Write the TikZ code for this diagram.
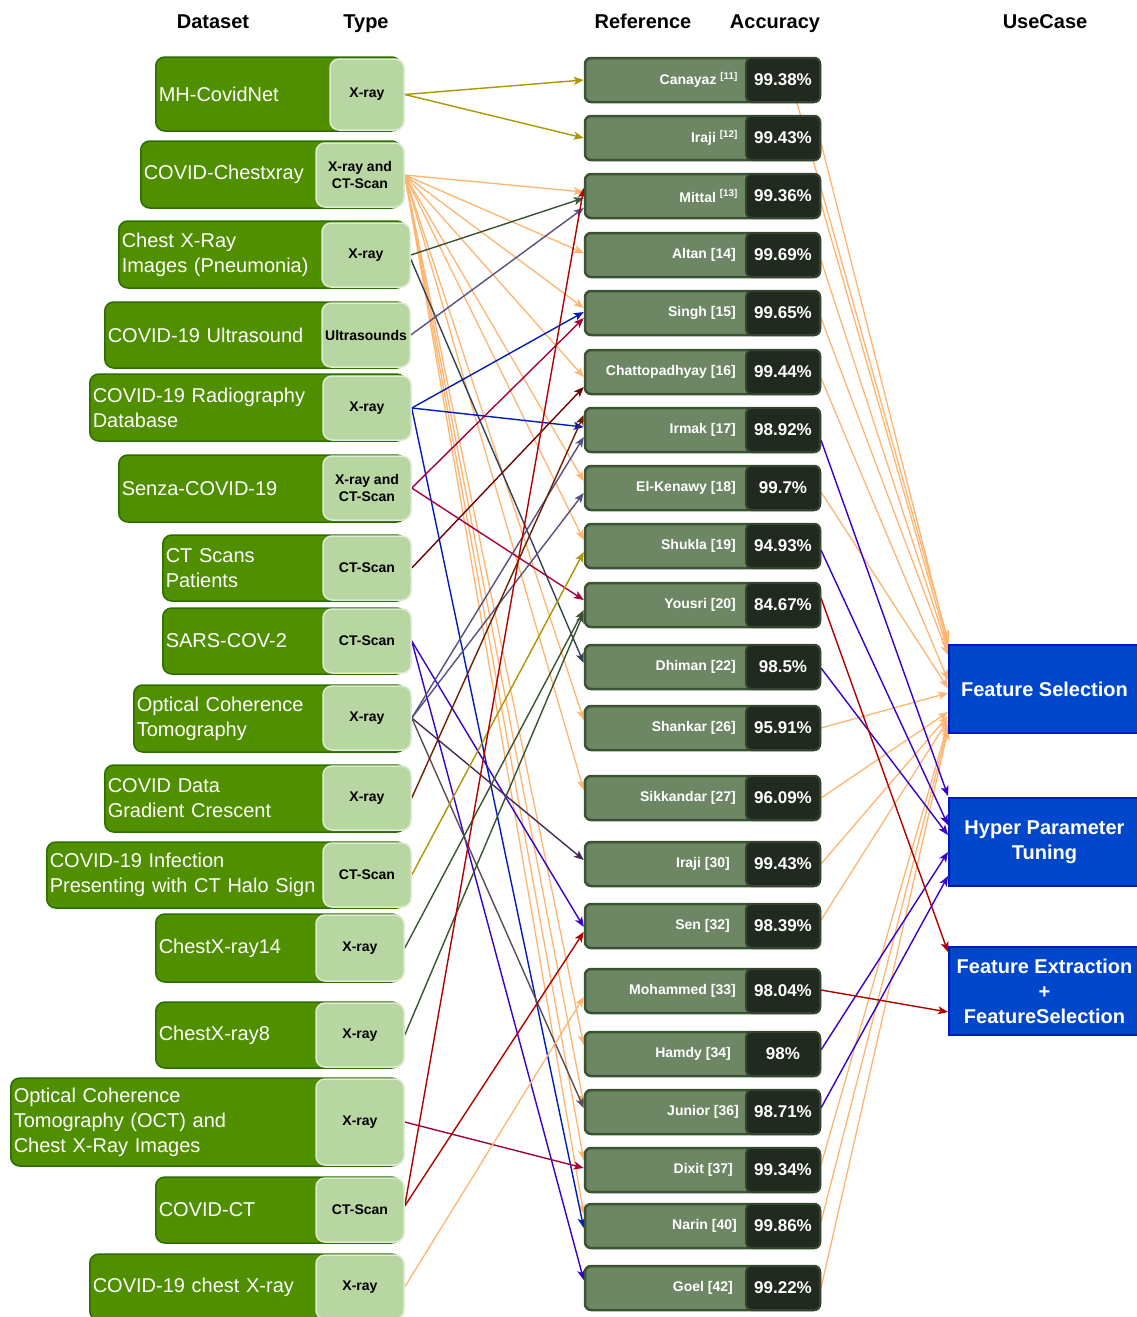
\documentclass[tikz,border=0pt]{standalone}
\usepackage{fontspec}
\setmainfont{Liberation Sans}
\usetikzlibrary{arrows.meta,backgrounds}
\definecolor{dsG}{HTML}{4F8F00}
\definecolor{dsGD}{HTML}{2D6E00}
\definecolor{tyG}{HTML}{B7D6A2}
\definecolor{tyGD}{HTML}{DCEBD2}
\definecolor{rfG}{HTML}{6D8764}
\definecolor{rfGD}{HTML}{3A5431}
\definecolor{acG}{HTML}{202A1E}
\definecolor{acGD}{HTML}{34432F}
\definecolor{ucB}{HTML}{0047CC}
\definecolor{ucBD}{HTML}{001DBC}
\definecolor{cOr}{HTML}{FFB570}
\definecolor{cGold}{HTML}{B09500}
\definecolor{cDG}{HTML}{3A5431}
\definecolor{cSl}{HTML}{314354}
\definecolor{cPG}{HTML}{56517E}
\definecolor{cBl}{HTML}{001DBC}
\definecolor{cCr}{HTML}{A50040}
\definecolor{cDR}{HTML}{6F0000}
\definecolor{cVi}{HTML}{3700CC}
\definecolor{cDP}{HTML}{432D57}
\definecolor{cGr}{HTML}{5E4B56}
\definecolor{cBr}{HTML}{6D1F00}
\definecolor{cRd}{HTML}{B20000}
\tikzset{
  dsbox/.style={draw=dsGD, fill=dsG, line width=1.5pt, rounded corners=9pt, text=white,
    font=\fontsize{20}{25}\selectfont, align=left, inner xsep=3pt, inner ysep=0pt, anchor=west},
  tybox/.style={draw=tyGD, fill=tyG, line width=1.5pt, rounded corners=9pt, text=black,
    font=\fontsize{14}{17}\selectfont\bfseries, align=center, inner sep=0pt},
  refbox/.style={draw=rfGD, fill=rfG, line width=2.5pt, rounded corners=6pt,
    minimum width=235pt, minimum height=44pt, inner sep=0pt},
  accbox/.style={draw=acGD, fill=acG, line width=2pt, rounded corners=6pt, text=white,
    minimum width=74pt, minimum height=44pt, inner sep=0pt, font=\fontsize{17}{20}\selectfont\bfseries},
  reflab/.style={text=white, anchor=east, inner sep=0pt, font=\fontsize{14}{17}\selectfont\bfseries},
  ucbox/.style={draw=ucBD, fill=ucB, line width=2pt, text=white, minimum width=191pt,
    minimum height=88pt, align=center, inner sep=0pt, font=\fontsize{20}{25}\selectfont\bfseries},
  hdr/.style={text=black, inner sep=0pt, anchor=base, font=\fontsize{20}{24}\selectfont\bfseries},
  conn/.style={line width=1.4pt, -{Stealth[length=10pt,width=8pt,inset=2.5pt]}},
  oconn/.style={conn, cOr, line width=1.3pt}
}
\begin{document}
\begin{tikzpicture}[x=1pt,y=-1pt]
\useasboundingbox (0,0) rectangle (1136,1317);

% headers
\node[hdr] (hDs) at (213,28) {Dataset};
\node[hdr] (hTy) at (366,28) {Type};
\node[hdr] (hRf) at (643,28) {Reference};
\node[hdr] (hAc) at (775,28) {Accuracy};
\node[hdr] (hUc) at (1045,28) {UseCase};

% datasets
\node[dsbox, text width=239pt, minimum height=74pt] (ds1) at (155,94) {MH-CovidNet};
\node[tybox, minimum width=74pt, minimum height=71pt] (ty1) at (367,94.5) {X-ray};
\node[dsbox, text width=254pt, minimum height=67pt] (ds2) at (140,174.5) {COVID-Chestxray};
\node[tybox, minimum width=88pt, minimum height=64pt] (ty2) at (360,175) {X-ray and\\CT-Scan};
\node[dsbox, text width=281pt, minimum height=67pt] (ds3) at (118,254.5) {Chest X-Ray\\Images (Pneumonia)};
\node[tybox, minimum width=88pt, minimum height=64pt] (ty3) at (366,255) {X-ray};
\node[dsbox, text width=295pt, minimum height=66pt] (ds4) at (104,335) {COVID-19 Ultrasound};
\node[tybox, minimum width=88pt, minimum height=64pt] (ty4) at (366,335) {Ultrasounds};
\node[dsbox, text width=310pt, minimum height=67pt] (ds5) at (89,407.5) {COVID-19 Radiography\\Database};
\node[tybox, minimum width=88pt, minimum height=64pt] (ty5) at (367,408) {X-ray};
\node[dsbox, text width=281pt, minimum height=67pt] (ds6) at (118,488.5) {Senza-COVID-19};
\node[tybox, minimum width=88pt, minimum height=64pt] (ty6) at (367,488) {X-ray and\\CT-Scan};
\node[dsbox, text width=237pt, minimum height=66pt] (ds7) at (162,568) {CT Scans\\Patients};
\node[tybox, minimum width=88pt, minimum height=64pt] (ty7) at (367,568) {CT-Scan};
\node[dsbox, text width=237pt, minimum height=66pt] (ds8) at (162,641) {SARS-COV-2};
\node[tybox, minimum width=88pt, minimum height=64pt] (ty8) at (367,641) {CT-Scan};
\node[dsbox, text width=266pt, minimum height=67pt] (ds9) at (133,718.5) {Optical Coherence\\Tomography};
\node[tybox, minimum width=88pt, minimum height=64pt] (ty9) at (367,718) {X-ray};
\node[dsbox, text width=295pt, minimum height=67pt] (ds10) at (104,798.5) {COVID Data\\Gradient Crescent};
\node[tybox, minimum width=88pt, minimum height=64pt] (ty10) at (367,798) {X-ray};
\node[dsbox, text width=353pt, minimum height=66pt] (ds11) at (46,875) {COVID-19 Infection\\Presenting with CT Halo Sign};
\node[tybox, minimum width=88pt, minimum height=64pt] (ty11) at (367,875) {CT-Scan};
\node[dsbox, text width=239pt, minimum height=68pt] (ds12) at (155,948) {ChestX-ray14};
\node[tybox, minimum width=88pt, minimum height=66pt] (ty12) at (360,948) {X-ray};
\node[dsbox, text width=239pt, minimum height=66pt] (ds13) at (155,1035) {ChestX-ray8};
\node[tybox, minimum width=88pt, minimum height=64pt] (ty13) at (360,1035) {X-ray};
\node[dsbox, text width=384pt, minimum height=88pt] (ds14) at (10,1122) {Optical Coherence\\Tomography (OCT) and\\Chest X-Ray Images};
\node[tybox, minimum width=88pt, minimum height=86pt] (ty14) at (360,1122) {X-ray};
\node[dsbox, text width=239pt, minimum height=66pt] (ds15) at (155,1210) {COVID-CT};
\node[tybox, minimum width=88pt, minimum height=64pt] (ty15) at (360,1210) {CT-Scan};
\node[dsbox, text width=305pt, minimum height=66pt] (ds16) at (89,1287) {COVID-19 chest X-ray};
\node[tybox, minimum width=88pt, minimum height=64pt] (ty16) at (360,1287) {X-ray};

% references
\node[refbox] (rf1) at (702.5,80) {};
\node[accbox] (ac1) at (783,80) {99.38\%};
\node[reflab] (lb1) at (738,80) {Canayaz \textsuperscript{[11]}};
\node[refbox] (rf2) at (702.5,138) {};
\node[accbox] (ac2) at (783,138) {99.43\%};
\node[reflab] (lb2) at (738,138) {Iraji \textsuperscript{[12]}};
\node[refbox] (rf3) at (702.5,196) {};
\node[accbox] (ac3) at (783,196) {99.36\%};
\node[reflab] (lb3) at (738,196) {Mittal \textsuperscript{[13]}};
\node[refbox] (rf4) at (702.5,255) {};
\node[accbox] (ac4) at (783,255) {99.69\%};
\node[reflab] (lb4) at (736,255) {Altan [14]};
\node[refbox] (rf5) at (702.5,313) {};
\node[accbox] (ac5) at (783,313) {99.65\%};
\node[reflab] (lb5) at (736,313) {Singh [15]};
\node[refbox] (rf6) at (702.5,372) {};
\node[accbox] (ac6) at (783,372) {99.44\%};
\node[reflab] (lb6) at (736,372) {Chattopadhyay [16]};
\node[refbox] (rf7) at (702.5,430) {};
\node[accbox] (ac7) at (783,430) {98.92\%};
\node[reflab] (lb7) at (736,430) {Irmak [17]};
\node[refbox] (rf8) at (702.5,488) {};
\node[accbox] (ac8) at (783,488) {99.7\%};
\node[reflab] (lb8) at (736,488) {El-Kenawy [18]};
\node[refbox] (rf9) at (702.5,546) {};
\node[accbox] (ac9) at (783,546) {94.93\%};
\node[reflab] (lb9) at (736,546) {Shukla [19]};
\node[refbox] (rf10) at (702.5,605) {};
\node[accbox] (ac10) at (783,605) {84.67\%};
\node[reflab] (lb10) at (736,605) {Yousri [20]};
\node[refbox] (rf11) at (702.5,667) {};
\node[accbox] (ac11) at (783,667) {98.5\%};
\node[reflab] (lb11) at (736,667) {Dhiman [22]};
\node[refbox] (rf12) at (702.5,728) {};
\node[accbox] (ac12) at (783,728) {95.91\%};
\node[reflab] (lb12) at (736,728) {Shankar [26]};
\node[refbox] (rf13) at (702.5,798) {};
\node[accbox] (ac13) at (783,798) {96.09\%};
\node[reflab] (lb13) at (736,798) {Sikkandar [27]};
\node[refbox] (rf14) at (702.5,864) {};
\node[accbox] (ac14) at (783,864) {99.43\%};
\node[reflab] (lb14) at (730,864) {Iraji [30]};
\node[refbox] (rf15) at (702.5,926) {};
\node[accbox] (ac15) at (783,926) {98.39\%};
\node[reflab] (lb15) at (730,926) {Sen [32]};
\node[refbox] (rf16) at (702.5,991) {};
\node[accbox] (ac16) at (783,991) {98.04\%};
\node[reflab] (lb16) at (736,991) {Mohammed [33]};
\node[refbox] (rf17) at (702.5,1054) {};
\node[accbox] (ac17) at (783,1054) {98\%};
\node[reflab] (lb17) at (731,1054) {Hamdy [34]};
\node[refbox] (rf18) at (702.5,1112) {};
\node[accbox] (ac18) at (783,1112) {98.71\%};
\node[reflab] (lb18) at (739,1112) {Junior [36]};
\node[refbox] (rf19) at (702.5,1170) {};
\node[accbox] (ac19) at (783,1170) {99.34\%};
\node[reflab] (lb19) at (733,1170) {Dixit [37]};
\node[refbox] (rf20) at (702.5,1226) {};
\node[accbox] (ac20) at (783,1226) {99.86\%};
\node[reflab] (lb20) at (737,1226) {Narin [40]};
\node[refbox] (rf21) at (702.5,1288) {};
\node[accbox] (ac21) at (783,1288) {99.22\%};
\node[reflab] (lb21) at (733,1288) {Goel [42]};

% use cases
\node[ucbox] (fs) at (1044.5,689) {Feature Selection};
\node[ucbox] (hp) at (1044.5,842) {Hyper Parameter\\Tuning};
\node[ucbox] (fe) at (1044.5,991) {Feature Extraction\\+\\FeatureSelection};

\begin{pgfonlayer}{background}
\fill[white] (0,0) rectangle (1136,1317);
% dataset -> reference
\draw[conn, cGold] (ty1.east) -- (rf1.west);
\draw[conn, cGold] (ty1.east) -- (rf2.west);
\foreach \t/\s in {rf3/4, rf4/2, rf5/5, rf6/-5, rf8/7, rf9/6, rf12/8, rf13/8, rf17/9, rf18/8, rf19/10, rf20/12}
  \draw[oconn] (ty2.east) -- ([yshift=\s pt]\t.west);
\draw[conn, cDG] (ty3.east) -- ([yshift=-2pt]rf3.west);
\draw[conn, cSl] ([yshift=-4pt]ty3.east) -- ([yshift=4pt]rf11.west);
\draw[conn, cPG] (ty4.east) -- ([yshift=-12pt]rf3.west);
\draw[conn, cBl] (ty5.east) -- ([yshift=1pt]rf5.west);
\draw[conn, cBl] (ty5.east) -- ([yshift=3pt]rf7.west);
\draw[conn, cBl] (ty5.east) -- ([yshift=-2pt]rf20.west);
\draw[conn, cCr] (ty6.east) -- ([yshift=-5pt]rf5.west);
\draw[conn, cCr] (ty6.east) -- ([yshift=5pt]rf10.west);
\draw[conn, cDR] (ty7.east) -- ([yshift=-15pt]rf6.west);
\draw[conn, cVi] (ty8.east) -- ([yshift=-1pt]rf15.west);
\draw[conn, cVi] (ty8.east) -- ([yshift=8pt]rf21.west);
\draw[conn, cPG] (ty9.east) -- ([yshift=-7pt]rf7.west);
\draw[conn, cPG] (ty9.east) -- ([yshift=-5pt]rf8.west);
\draw[conn, cDP] (ty9.east) -- ([yshift=4pt]rf14.west);
\draw[conn, cGr] (ty9.east) -- ([yshift=4pt]rf18.west);
\draw[conn, cBr] (ty10.east) -- ([yshift=15pt]rf7.west);
\draw[conn, cGold] (ty11.east) -- ([yshift=-6pt]rf9.west);
\draw[conn, cDG] (ty12.east) -- ([yshift=-5pt]rf10.west);
\draw[conn, cDG] (ty13.east) -- ([yshift=-8pt]rf10.west);
\draw[conn, cCr] (ty14.east) -- ([yshift=2pt]rf19.west);
\draw[conn, cRd] ([yshift=4pt]ty15.east) -- ([yshift=8pt]rf3.west);
\draw[conn, cRd] ([yshift=4pt]ty15.east) -- ([yshift=-6pt]rf15.west);
\draw[oconn] (ty16.east) -- ([yshift=-6pt]rf16.west);
% reference -> use case
\draw[oconn] ([xshift=14pt]ac1.south) -- ([yshift=49pt]fs.west);
\foreach \a/\s/\e in {ac2/-5/46, ac3/-7/43, ac4/-5/39, ac5/-5/34, ac6/-6/9, ac8/-4/1, ac12/0/-4, ac13/0/-23, ac14/0/-27, ac15/6/-31, ac19/5/-35, ac20/4/-38, ac21/0/-41}
  \draw[oconn] ([yshift=\s pt]\a.east) -- ([yshift=\e pt]fs.west);
\foreach \a/\s/\e in {ac7/-10/46, ac9/-4/17, ac11/-1/7, ac17/4/-10, ac18/4/-34}
  \draw[conn, cVi] ([yshift=\s pt]\a.east) -- ([yshift=\e pt]hp.west);
\draw[conn, cRd] ([yshift=7pt]ac10.east) -- ([yshift=39pt]fe.west);
\draw[conn, cRd] ([yshift=1pt]ac16.east) -- ([yshift=-21pt]fe.west);
\end{pgfonlayer}
\end{tikzpicture}
\end{document}
